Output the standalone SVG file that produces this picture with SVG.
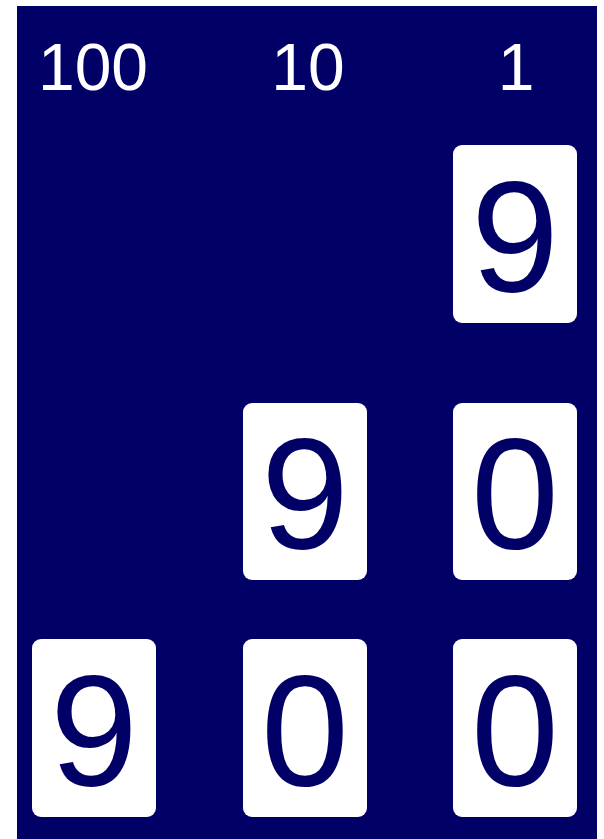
<svg xmlns="http://www.w3.org/2000/svg" width="604" height="839" viewBox="0 0 604 839">
<style>
.card{fill:#ffffff}
.d{font-family:"Liberation Sans",Arial,sans-serif;font-size:158px;fill:#000066;text-anchor:middle}
.h{font-family:"Liberation Sans",Arial,sans-serif;font-size:66px;fill:#ffffff;text-anchor:middle}
</style>
<rect x="0" y="0" width="604" height="839" fill="#ffffff"/>
<rect x="17" y="6" width="580" height="833" fill="#000066"/>
<g id="headers">
<text class="h" x="93" y="90">100</text>
<text class="h" x="308" y="90">10</text>
<text class="h" x="516" y="90">1</text>
</g>
<g id="card-r1-c3"><rect class="card" x="453" y="145" width="124" height="178" rx="9"/><text class="d" x="515" y="291">9</text></g>
<g id="card-r2-c2"><rect class="card" x="243" y="403" width="124" height="177" rx="9"/><text class="d" x="305" y="548">9</text></g>
<g id="card-r2-c3"><rect class="card" x="453" y="403" width="124" height="177" rx="9"/><text class="d" x="515" y="548">0</text></g>
<g id="card-r3-c1"><rect class="card" x="32" y="639" width="124" height="178" rx="9"/><text class="d" x="94" y="785">9</text></g>
<g id="card-r3-c2"><rect class="card" x="243" y="639" width="124" height="178" rx="9"/><text class="d" x="305" y="785">0</text></g>
<g id="card-r3-c3"><rect class="card" x="453" y="639" width="124" height="178" rx="9"/><text class="d" x="515" y="785">0</text></g>
<g id="connectors"/>
</svg>
